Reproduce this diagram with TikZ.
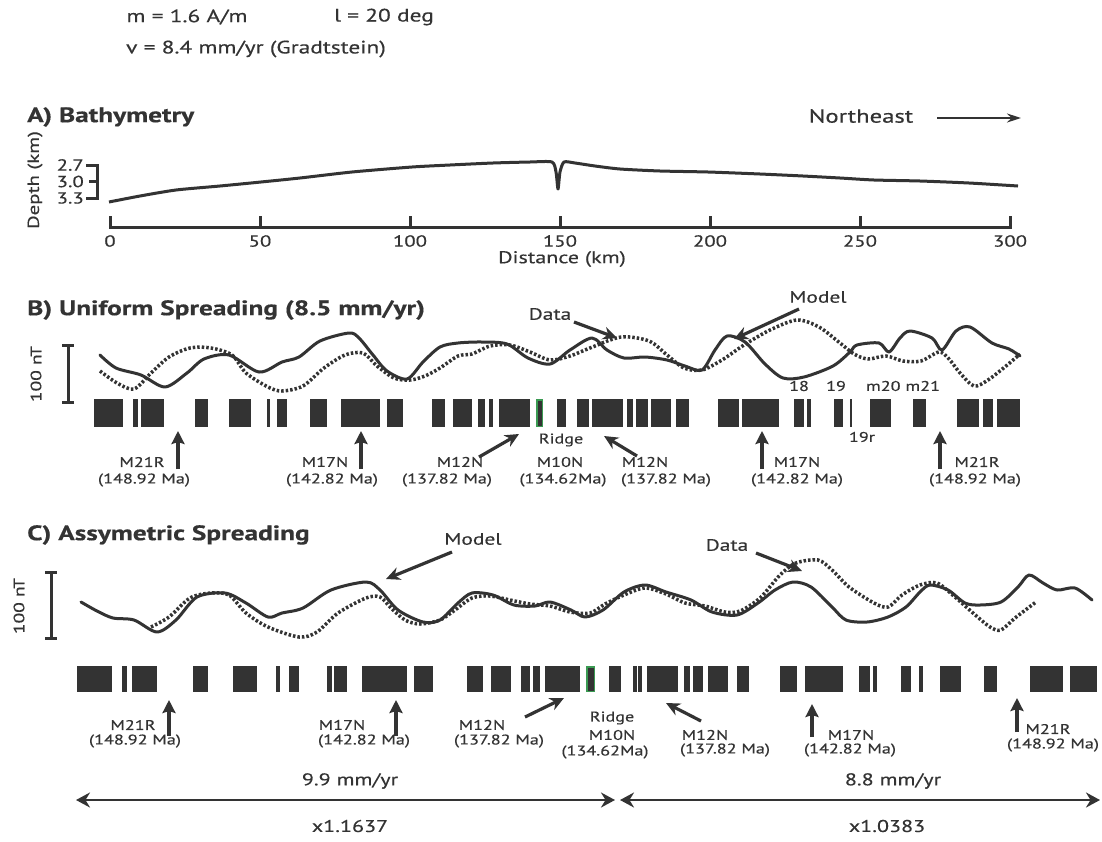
\documentclass[tikz,border=0pt]{standalone}
\usepackage{fontspec}
\setmainfont{PT Sans}[FakeStretch=1.3, FakeBold=0.4]
\usetikzlibrary{arrows.meta}
\definecolor{ink}{HTML}{333333}
\definecolor{ridgegreen}{HTML}{3A9A52}

\begin{document}
\begin{tikzpicture}[x=1pt,y=-1pt]
			\tikzstyle{txt} = [inner sep = 0pt, text = ink, font = \fontsize{14}{16}\selectfont]
			\tikzstyle{param} = [txt, font = \fontsize{18}{20}\selectfont]
			\tikzstyle{paneltitle} = [txt, anchor = west, font = \bfseries\fontsize{21}{24}\selectfont]
			\tikzstyle{callout} = [txt, font = \fontsize{16.5}{18}\selectfont]
			\tikzstyle{axisline} = [draw = ink, line width = 3pt]
			\tikzstyle{modelcurve} = [draw = ink, line width = 3pt, line join = round, line cap = round]
			\tikzstyle{datacurve} = [draw = ink, line width = 3.5pt, dash pattern = on 2.5pt off 2pt]
			\tikzstyle{pointer} = [-{Stealth[length = 14pt, width = 13pt]}, draw = ink, line width = 3.2pt]
			\tikzstyle{agearrow} = [-{Stealth[length = 13pt, width = 13pt, inset = 2pt]}, draw = ink, line width = 4.5pt]
			\tikzstyle{spanarrow} = [{Stealth[length = 14pt, width = 15pt]}-{Stealth[length = 14pt, width = 15pt]}, draw = ink, line width = 2.8pt]
			\fill[white] (0,0) rectangle (1102,841);
			\useasboundingbox (0,0) rectangle (1102,841);
			% parameters
			\node[param] (mval) at (187,17) {m = 1.6 A/m};
			\node[param] (ival) at (384,17) {l = 20 deg};
			\node[param] (vval) at (256,49) {v = 8.4 mm/yr (Gradtstein)};
			% A) bathymetry
			\node[paneltitle] (titleA) at (27,117) {A) Bathymetry};
			\node[txt, font = \fontsize{19}{22}\selectfont] (northeast) at (861,116) {Northeast};
			\coordinate (neTail) at (937,118);
			\coordinate (neTip) at (1021,118);
			\draw (neTail) to (neTip) [-{Stealth[length = 14pt, width = 9pt]}, draw = ink, line width = 1.8pt];
			\node[txt, rotate = 90, font = \fontsize{16}{18}\selectfont] (depthlab) at (35,180) {Depth (km)};
			\node[txt, anchor = east, font = \fontsize{16}{18}\selectfont] (d27) at (84,165) {2.7};
			\node[txt, anchor = east, font = \fontsize{16}{18}\selectfont] (d30) at (84,181.5) {3.0};
			\node[txt, anchor = east, font = \fontsize{16}{18}\selectfont] (d33) at (84,198) {3.3};
			\draw[axisline] (86,165) -- (97,165) -- (97,198) -- (86,198);
			\draw[axisline] (89,181.5) -- (97,181.5);
			\draw[axisline] (110,216) -- (110,227) -- (1010,227) -- (1010,216);
			\foreach \k/\v in {0/0, 1/50, 2/100, 3/150, 4/200, 5/250, 6/300} {
				\draw[axisline] ({110+150*\k},227) -- ({110+150*\k},216);
				\node[txt, font = \fontsize{16}{18}\selectfont] (tick\k) at ({110+150*\k},241) {\v};
			}
			\node[txt, font = \fontsize{17}{20}\selectfont] (distlab) at (562,259) {Distance (km)};
			\draw[axisline, line join = round] plot[smooth, tension = 0.4] coordinates {
				(109,202) (140,196) (176,190) (220,186) (261,182) (300,178) (352,172)
				(412,167) (450,165) (493,163) (530,162) (552,162) (556,172) (558,189)
				(560,172) (564,162) (575,163) (595,166) (620,169) (660,171) (708,172)
				(760,174) (803,176) (840,178) (874,180) (920,181) (969,183) (1018,186)};
			% B) uniform spreading
			\node[paneltitle] (titleB) at (27,310) {B) Uniform Spreading (8.5 mm/yr)};
			\node[txt, rotate = 90, font = \fontsize{15}{18}\selectfont] (ntB) at (36,374) {100 nT};
			\draw[axisline] (62,345) -- (74,345) (68,345) -- (68,402) (62,402) -- (74,402);
			\draw[modelcurve] plot[smooth, tension = 0.5] coordinates {
				(100,355) (116,368) (141,375) (165,387) (187,373) (204,359) (229,355)
				(259,372) (282,362) (299,357) (320,341) (349,333) (359,338) (373,355)
				(387,371) (407,379) (423,362) (440,347) (458,343) (482,342) (507,344)
				(528,358) (550,364) (570,350) (592,338) (607,350) (624,358) (645,357)
				(667,360) (685,366) (702,370) (715,350) (727,336) (745,342) (765,364)
				(783,378) (804,377) (833,366) (850,352) (857,345) (879,343) (889,352)
				(900,338) (910,331) (932,338) (942,350) (956,331) (970,327) (992,343)
				(1009,349) (1020,356)};
			\draw[datacurve] plot[smooth, tension = 0.5] coordinates {
				(100,371) (117,383) (134,389) (151,373) (169,357) (190,348) (211,348)
				(232,355) (246,373) (268,387) (282,391) (303,386) (324,368) (345,355)
				(363,353) (377,366) (394,378) (410,380) (425,376) (440,368) (458,356)
				(472,354) (490,346) (510,345) (530,352) (550,360) (570,356) (590,348)
				(621,337) (649,341) (667,355) (684,368) (702,370) (722,360) (744,345)
				(770,330) (797,320) (819,327) (840,343) (854,354) (868,359) (886,356)
				(903,361) (921,361) (939,352) (949,359) (960,373) (974,386) (988,380)
				(1006,366) (1020,354)};
			\node[callout] (dataB) at (550,314) {Data};
			\coordinate (dataBtail) at (574,322);
			\coordinate (dataBtip) at (617,338);
			\draw (dataBtail) to (dataBtip) [pointer];
			\node[callout] (modelB) at (818,297) {Model};
			\coordinate (modelBtail) at (799,309);
			\coordinate (modelBtip) at (734,339);
			\draw (modelBtail) to (modelBtip) [pointer];
			\foreach \a/\b in {94/123, 133/138, 141/164, 195/208, 229/251, 267/269.5,
				277/287, 310/327, 341/380, 387/403, 432/445, 453/472, 478/485, 489/493,
				499/530, 557/566, 577/589, 592/623, 627/633, 636/648, 651/671, 676/689,
				718/739, 742/779, 794/804, 807/811, 834/843, 850/852, 870/891, 913/926,
				957/979, 983/993, 997/1020}
				\fill[ink] (\a,399) rectangle (\b,427);
			\filldraw[fill = ink, draw = ridgegreen, line width = 1.5pt] (536.75,399.75) rectangle (542.25,426.25);
			\node[txt] (c18) at (799,386) {18};
			\node[txt] (c19) at (836,386) {19};
			\node[txt] (c2021) at (903,386) {m20 m21};
			\node[txt] (c19r) at (862,437) {19r};
			% B) ages
			\node[txt] (m21rBl) at (142,462) {M21R};
			\node[txt] (a21rBl) at (144,480) {(148.92 Ma)};
			\coordinate (m21rBlt) at (178,469); \coordinate (m21rBlh) at (178,431);
			\draw (m21rBlt) to (m21rBlh) [agearrow];
			\node[txt] (m17nBl) at (325,462) {M17N};
			\node[txt] (a17nBl) at (332,480) {(142.82 Ma)};
			\coordinate (m17nBlt) at (361,469); \coordinate (m17nBlh) at (361,431);
			\draw (m17nBlt) to (m17nBlh) [agearrow];
			\node[txt] (m12nBl) at (460,462) {M12N};
			\node[txt] (a12nBl) at (447,480) {(137.82 Ma)};
			\coordinate (m12nBlt) at (479,457); \coordinate (m12nBlh) at (519,434);
			\draw (m12nBlt) to (m12nBlh) [pointer];
			\node[txt] (ridgeB) at (561,440) {Ridge};
			\node[txt] (m10nB) at (560,462) {M10N};
			\node[txt] (a10nB) at (563,480) {(134.62Ma)};
			\node[txt] (m12nBr) at (645,462) {M12N};
			\node[txt] (a12nBr) at (666,480) {(137.82 Ma)};
			\coordinate (m12nBrt) at (637,456); \coordinate (m12nBrh) at (604,436);
			\draw (m12nBrt) to (m12nBrh) [pointer];
			\node[txt] (m17nBr) at (797,462) {M17N};
			\node[txt] (a17nBr) at (797,480) {(142.82 Ma)};
			\coordinate (m17nBrt) at (762,469); \coordinate (m17nBrh) at (762,431);
			\draw (m17nBrt) to (m17nBrh) [agearrow];
			\node[txt] (m21rBr) at (977,462) {M21R};
			\node[txt] (a21rBr) at (975,480) {(148.92 Ma)};
			\coordinate (m21rBrt) at (940,469); \coordinate (m21rBrh) at (940,431);
			\draw (m21rBrt) to (m21rBrh) [agearrow];
			% C) asymmetric spreading
			\node[paneltitle] (titleC) at (27,535) {C) Assymetric Spreading};
			\node[txt, rotate = 90, font = \fontsize{15}{18}\selectfont] (ntC) at (19,606) {100 nT};
			\draw[axisline] (45,572) -- (57,572) (51,572) -- (51,638) (45,638) -- (57,638);
			\draw[modelcurve] plot[smooth, tension = 0.5] coordinates {
				(81,602) (97,611) (113,618) (134,620) (157,632) (176,620) (197,597)
				(225,593) (246,603) (268,617) (282,613) (303,608) (331,590) (366,582)
				(380,590) (398,610) (423,622) (440,620) (458,603) (472,593) (493,595)
				(514,605) (535,606) (550,602) (571,610) (585,617) (603,610) (624,592)
				(645,585) (666,592) (691,600) (712,612) (737,615) (758,603) (775,590)
				(793,582) (811,587) (832,607) (846,620) (867,622) (888,617) (906,607)
				(920,592) (930,585) (948,590) (965,603) (980,605) (1001,602) (1018,587)
				(1029,575) (1043,583) (1057,590) (1075,588) (1092,600)};
			\draw[datacurve] plot[smooth, tension = 0.5] coordinates {
				(151,627) (169,617) (190,598) (211,593) (229,595) (246,613) (268,627)
				(299,637) (317,632) (338,613) (366,598) (380,597) (391,608) (405,620)
				(420,624) (440,620) (455,610) (472,598) (490,596) (510,600) (530,604)
				(550,606) (570,612) (590,613) (605,604) (624,595) (645,588) (666,594)
				(685,603) (705,606) (725,612) (740,611) (760,598) (780,575) (796,563)
				(818,560) (832,570) (849,587) (874,603) (888,607) (902,595) (920,585)
				(937,583) (955,597) (973,613) (990,627) (1001,630) (1015,618) (1036,602)};
			\node[callout] (modelC) at (473,539) {Model};
			\coordinate (modelCtail) at (452,552);
			\coordinate (modelCtip) at (386,579);
			\draw (modelCtail) to (modelCtip) [pointer];
			\node[callout] (dataC) at (727,545) {Data};
			\coordinate (dataCtail) at (756,553);
			\coordinate (dataCtip) at (802,571);
			\draw (dataCtail) to (dataCtip) [pointer];
			\foreach \a/\b in {77/112, 122/127, 132/157, 193/208, 233/257, 276/280,
				289/299, 327/332, 334/347, 362/407, 414/433, 467/483, 491/511, 521/530,
				533/540, 545/580, 609/621, 633/637, 638/642, 647/678, 684/690, 693/703,
				708/728, 737/749, 780/797, 805/843, 859/870, 873/877, 901/911, 919/923,
				940/961, 984/997, 1030/1063, 1070/1097}
				\fill[ink] (\a,666) rectangle (\b,692);
			\filldraw[fill = ink, draw = ridgegreen, line width = 1.5pt] (586.75,666.75) rectangle (594.25,691.25);
			% C) ages
			\node[txt] (m21rCl) at (133,725) {M21R};
			\node[txt] (a21rCl) at (135,741) {(148.92 Ma)};
			\coordinate (m21rClt) at (169,736); \coordinate (m21rClh) at (169,700);
			\draw (m21rClt) to (m21rClh) [agearrow];
			\node[txt] (m17nCl) at (342,725) {M17N};
			\node[txt] (a17nCl) at (364,741) {(142.82 Ma)};
			\coordinate (m17nClt) at (396,736); \coordinate (m17nClh) at (396,700);
			\draw (m17nClt) to (m17nClh) [agearrow];
			\node[txt] (m12nCl) at (482,725) {M12N};
			\node[txt] (a12nCl) at (499,741) {(137.82 Ma)};
			\coordinate (m12nClt) at (525,717); \coordinate (m12nClh) at (564,698);
			\draw (m12nClt) to (m12nClh) [pointer];
			\node[txt] (ridgeC) at (612,718) {Ridge};
			\node[txt] (m10nC) at (612,735) {M10N};
			\node[txt] (a10nC) at (605,752) {(134.62Ma)};
			\node[txt] (m12nCr) at (705,735) {M12N};
			\node[txt] (a12nCr) at (725,750) {(137.82 Ma)};
			\coordinate (m12nCrt) at (701,721); \coordinate (m12nCrh) at (666,703);
			\draw (m12nCrt) to (m12nCrh) [pointer];
			\node[txt] (m17nCr) at (851,735) {M17N};
			\node[txt] (a17nCr) at (850,750) {(142.82 Ma)};
			\coordinate (m17nCrt) at (812,737); \coordinate (m17nCrh) at (812,704);
			\draw (m17nCrt) to (m17nCrh) [agearrow];
			\node[txt] (m21rCr) at (1048,729) {M21R};
			\node[txt] (a21rCr) at (1053,745) {(148.92 Ma)};
			\coordinate (m21rCrt) at (1017,732); \coordinate (m21rCrh) at (1017,698);
			\draw (m21rCrt) to (m21rCrh) [agearrow];
			% spreading rates
			\coordinate (leftEnd) at (76,800);
			\coordinate (midL) at (615,800);
			\coordinate (midR) at (620,800);
			\coordinate (rightEnd) at (1100,800);
			\draw (leftEnd) to (midL) [spanarrow];
			\draw (midR) to (rightEnd) [spanarrow];
			\node[txt, font = \fontsize{17}{20}\selectfont] (rateL) at (350,781) {9.9 mm/yr};
			\node[txt, font = \fontsize{17}{20}\selectfont] (rateR) at (893,781) {8.8 mm/yr};
			\node[txt, font = \fontsize{17}{20}\selectfont] (factL) at (350,826) {x1.1637};
			\node[txt, font = \fontsize{17}{20}\selectfont] (factR) at (887,826) {x1.0383};
		\end{tikzpicture}
\end{document}
